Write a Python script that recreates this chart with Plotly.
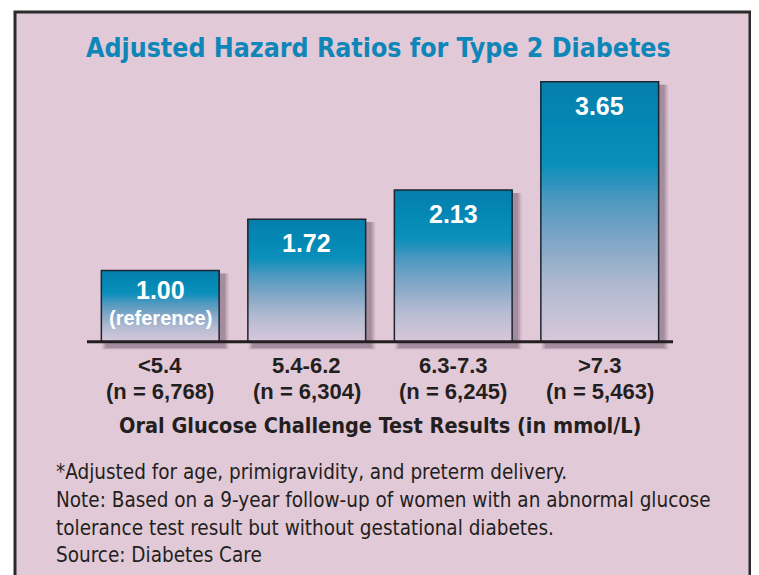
import plotly.graph_objects as go

# ---- data ----
categories = ["<5.4", "5.4-6.2", "6.3-7.3", ">7.3"]
cat_labels = ["&lt;5.4", "5.4-6.2", "6.3-7.3", "&gt;7.3"]
n_labels = ["(n = 6,768)", "(n = 6,304)", "(n = 6,245)", "(n = 5,463)"]
hazard_ratios = [1.00, 1.72, 2.13, 3.65]
value_labels = ["1.00", "1.72", "2.13", "3.65"]
sub_labels = ["(reference)", "", "", ""]
title_text = "Adjusted Hazard Ratios for Type 2 Diabetes"
axis_title = "Oral Glucose Challenge Test Results (in mmol/L)"
footnotes = [
    "*Adjusted for age, primigravidity, and preterm delivery.",
    "Note: Based on a 9-year follow-up of women with an abnormal glucose",
    "tolerance test result but without gestational diabetes.",
    "Source: Diabetes Care",
]

# ---- layout geometry (reference-page pixels; page body has an 8px margin) ----
OFF = 8
W, H = 759 - OFF, 575 - OFF
PL, PR, PT, PB = 87, 673, 64, 356   # plot area in page pixels
ML, MR, MT, MB = PL - OFF, W - (PR - OFF), PT - OFF, H - (PB - OFF)
PW, PH = PR - PL, PB - PT
YR = [-0.2, 3.9]


def px_x(px):
    return (px - PL) / PW


def px_y(py):
    return (PB - py) / PH


COND = "Liberation Sans Narrow, DejaVu Sans Condensed, Roboto Condensed, Arial Narrow, Roboto, sans-serif"
PINK = "rgb(226,201,215)"
DARK = "#231f20"
TEAL = "#0e86b8"
BAR_W = 0.804

stops = [(0.0, (216, 199, 218)), (0.2, (180, 187, 210)), (0.4, (125, 165, 197)),
         (0.55, (75, 152, 192)), (0.68, (10, 144, 186)), (0.85, (4, 135, 180)),
         (1.0, (6, 126, 171))]


def grad(t):
    for (t0, c0), (t1, c1) in zip(stops[:-1], stops[1:]):
        if t <= t1:
            f = (t - t0) / (t1 - t0)
            return "rgb(%d,%d,%d)" % tuple(round(a + (b - a) * f) for a, b in zip(c0, c1))
    return "rgb(%d,%d,%d)" % stops[-1][1]


fig = go.Figure()

# drop shadow (soft, offset right/down)
for e, op in [(0.03, 0.10), (0.018, 0.14), (0.006, 0.18)]:
    fig.add_trace(go.Bar(
        x=categories, y=[v - 0.04 + e + 0.08 for v in hazard_ratios], base=-0.08 - e,
        width=BAR_W + 2 * e, offset=-BAR_W / 2 + 0.035 - e,
        marker=dict(color="rgba(60,35,60,%.2f)" % op, line=dict(width=0)),
        hoverinfo="skip", showlegend=False))

# gradient bars (slices overlaid from bottom to top)
N = 60
for k in range(N):
    t = k / N
    fig.add_trace(go.Bar(
        x=categories, base=[v * t for v in hazard_ratios],
        y=[v * (1 - t) for v in hazard_ratios],
        width=BAR_W, marker=dict(color=grad(t + 0.5 / N), line=dict(width=0)),
        hoverinfo="skip", showlegend=False))

# outline
fig.add_trace(go.Bar(
    x=categories, y=hazard_ratios, width=BAR_W,
    marker=dict(color="rgba(0,0,0,0)", line=dict(color="#1d2630", width=1.5)),
    hoverinfo="skip", showlegend=False))

ann = []
for c, v, vl, sl in zip(categories, hazard_ratios, value_labels, sub_labels):
    ann.append(dict(x=c, y=v, xref="x", yref="y", text="<b>%s</b>" % vl, showarrow=False,
                    yanchor="middle", yshift=-24 if not sl else -19,
                    font=dict(family="Liberation Sans", size=25, color="white")))
    if sl:
        ann.append(dict(x=c, y=v, xref="x", yref="y", text="<b>%s</b>" % sl, showarrow=False,
                        yanchor="middle", yshift=-47,
                        font=dict(family="Liberation Sans", size=20, color="white")))
for c, cl, nl in zip(categories, cat_labels, n_labels):
    ann.append(dict(x=c, y=0, xref="x", yref="y", text="<b>%s</b>" % cl, showarrow=False,
                    yanchor="middle", yshift=-24,
                    font=dict(family="Liberation Sans", size=22, color=DARK)))
    ann.append(dict(x=c, y=0, xref="x", yref="y", text="<b>%s</b>" % nl, showarrow=False,
                    yanchor="middle", yshift=-50,
                    font=dict(family="Liberation Sans", size=22, color=DARK)))

ann.append(dict(x=px_x(380), y=px_y(425), xref="paper", yref="paper",
                text="<b>%s</b>" % axis_title, showarrow=False, yanchor="middle",
                font=dict(family=COND, size=21.5, color=DARK)))
ann.append(dict(x=px_x(378), y=px_y(47), xref="paper", yref="paper",
                text="<b>%s</b>" % title_text, showarrow=False, yanchor="middle",
                font=dict(family=COND, size=26.5, color=TEAL)))
for txt, cy in zip(footnotes, [472, 500, 528, 555]):
    ann.append(dict(x=px_x(54), y=px_y(cy), xref="paper", yref="paper", text=txt,
                    showarrow=False, xanchor="left", yanchor="middle",
                    font=dict(family=COND, size=20.5, color=DARK)))

shapes = [
    dict(type="rect", xref="paper", yref="paper", x0=px_x(15), x1=px_x(750),
         y0=px_y(600), y1=px_y(12), fillcolor=PINK,
         line=dict(color="#2b2b2b", width=3), layer="below"),
    dict(type="line", xref="paper", yref="y", x0=0, x1=1, y0=0, y1=0,
         line=dict(color=DARK, width=3), layer="above"),
]

fig.update_layout(
    width=W, height=H, margin=dict(l=ML, r=MR, t=MT, b=MB, pad=0),
    paper_bgcolor="white", plot_bgcolor="rgba(0,0,0,0)",
    barmode="overlay", showlegend=False,
    xaxis=dict(range=[-0.5, 3.5], visible=False, fixedrange=True),
    yaxis=dict(range=YR, visible=False, fixedrange=True),
    annotations=ann, shapes=shapes,
)

fig.write_html("out.html")
